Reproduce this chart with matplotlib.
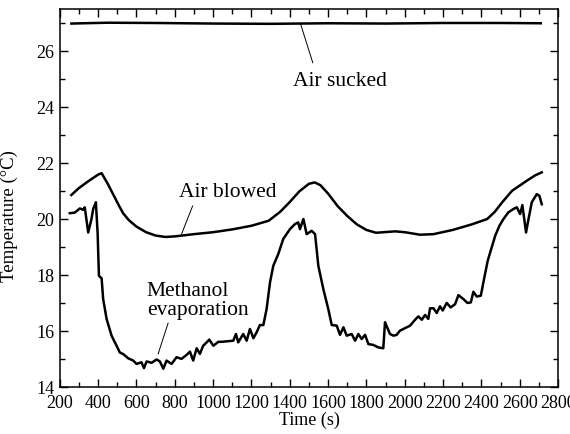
import matplotlib.pyplot as plt
from matplotlib.ticker import MultipleLocator

plt.rcParams['font.family'] = 'Liberation Serif'
plt.rcParams['font.size'] = 13

# Air sucked
sucked_t = [260, 450, 700, 1000, 1300, 1600, 1900, 2200, 2500, 2710]
sucked_T = [26.98, 27.01, 27.0, 26.98, 26.97, 26.99, 26.98, 27.0, 27.0, 26.99]

# Air blowed
blowed_t = [260, 300, 350, 400, 418, 450, 480, 510, 530, 560, 600, 650, 700, 750, 800,
            900, 1000, 1100, 1200, 1290, 1350, 1400, 1450, 1500, 1530, 1560, 1600, 1650,
            1700, 1750, 1800, 1850, 1950, 2000, 2080, 2150, 2250, 2350, 2430, 2470,
            2510, 2560, 2637, 2680, 2715]
blowed_T = [20.85, 21.1, 21.35, 21.58, 21.63, 21.25, 20.85, 20.45, 20.2, 19.95, 19.72,
            19.52, 19.4, 19.35, 19.37, 19.45, 19.52, 19.62, 19.75, 19.93, 20.25, 20.6,
            20.98, 21.25, 21.3, 21.2, 20.9, 20.45, 20.1, 19.8, 19.6, 19.5, 19.55, 19.52,
            19.43, 19.45, 19.6, 19.8, 19.99, 20.25, 20.6, 21.0, 21.36, 21.55, 21.66]

# Methanol evaporation
meth_t = [252, 278, 304, 322, 330, 348, 365, 374, 388, 397, 404, 418, 426, 444, 470,
          496, 513, 531, 557, 583, 600, 626, 639, 653, 679, 705, 722, 740, 757, 783,
          809, 835, 861, 879, 896, 914, 931, 948, 966, 980, 1001, 1027, 1044, 1105,
          1119, 1131, 1157, 1175, 1192, 1210, 1227, 1244, 1262, 1279, 1297, 1314,
          1340, 1366, 1401, 1427, 1444, 1453, 1471, 1488, 1514, 1532, 1549, 1575,
          1601, 1619, 1645, 1662, 1680, 1697, 1723, 1741, 1758, 1775, 1793, 1810,
          1836, 1862, 1888, 1897, 1923, 1941, 1958, 1975, 2002, 2028, 2054, 2071,
          2089, 2106, 2123, 2132, 2150, 2167, 2184, 2198, 2219, 2240, 2263, 2280,
          2306, 2327, 2345, 2358, 2376, 2397, 2414, 2433, 2454, 2472, 2494, 2515,
          2541, 2567, 2585, 2602, 2614, 2633, 2646, 2663, 2689, 2703, 2715]
meth_T = [20.2, 20.22, 20.37, 20.32, 20.41, 19.51, 19.99, 20.35, 20.59, 19.51, 17.96,
          17.87, 17.13, 16.42, 15.82, 15.46, 15.22, 15.16, 15.01, 14.93, 14.81, 14.87,
          14.66, 14.9, 14.85, 14.97, 14.9, 14.64, 14.93, 14.81, 15.05, 14.99, 15.13,
          15.25, 14.93, 15.37, 15.17, 15.46, 15.58, 15.68, 15.46, 15.6, 15.6, 15.64,
          15.88, 15.58, 15.88, 15.64, 16.06, 15.73, 15.94, 16.2, 16.2, 16.77, 17.73,
          18.32, 18.74, 19.28, 19.63, 19.81, 19.87, 19.63, 19.99, 19.45, 19.57, 19.45,
          18.32, 17.49, 16.77, 16.2, 16.18, 15.85, 16.12, 15.82, 15.88, 15.64, 15.88,
          15.7, 15.85, 15.52, 15.49, 15.4, 15.37, 16.3, 15.88, 15.82, 15.85, 16.0,
          16.09, 16.18, 16.39, 16.51, 16.39, 16.56, 16.42, 16.8, 16.8, 16.63, 16.87,
          16.72, 16.99, 16.83, 16.95, 17.27, 17.13, 16.99, 17.01, 17.39, 17.22, 17.25,
          17.85, 18.5, 18.98, 19.39, 19.75, 19.99, 20.23, 20.35, 20.41, 20.17, 20.49,
          19.51, 19.99, 20.59, 20.88, 20.82, 20.52]

fig = plt.figure(figsize=(5.7, 4.35), dpi=100)
ax = fig.add_axes([0.105, 0.109, 0.874, 0.868])

for t, T in [(sucked_t, sucked_T), (blowed_t, blowed_T), (meth_t, meth_T)]:
    ax.plot(t, T, color='black', lw=1.8)

# labels with leader lines
ax.text(1662, 24.95, 'Air sucked', ha='center', va='center', fontsize=15.5)
ax.plot([1457, 1520], [26.95, 25.58], color='black', lw=0.7)
ax.text(1077, 20.96, 'Air blowed', ha='center', va='center', fontsize=15.5)
ax.plot([893, 835], [20.46, 19.45], color='black', lw=0.7)
ax.text(653, 17.1, 'Methanol\nevaporation', ha='left', va='center',
        fontsize=15.5, linespacing=1.0)
ax.plot([765, 713], [16.27, 15.17], color='black', lw=0.7)

ax.set_xlim(200, 2800)
ax.set_ylim(14, 27.5)
ax.xaxis.set_major_locator(MultipleLocator(200))
ax.xaxis.set_minor_locator(MultipleLocator(100))
ax.yaxis.set_major_locator(MultipleLocator(2))
ax.yaxis.set_minor_locator(MultipleLocator(1))
ax.tick_params(which='both', direction='in', top=True, right=True, width=1,
               labelsize=13)
ax.tick_params(which='major', length=5.5)
ax.tick_params(which='minor', length=3.5)
ax.tick_params(axis='x', which='major', pad=5)
ax.tick_params(axis='y', which='major', pad=4)
for s in ax.spines.values():
    s.set_linewidth(1.1)

ax.set_xlabel('Time (s)')
ax.set_ylabel('Temperature (°C)', fontsize=13.5)
ax.xaxis.set_label_coords(0.5, -0.063)
ax.yaxis.set_label_coords(-0.084, 0.453)

fig.savefig('out.png', dpi=100)
